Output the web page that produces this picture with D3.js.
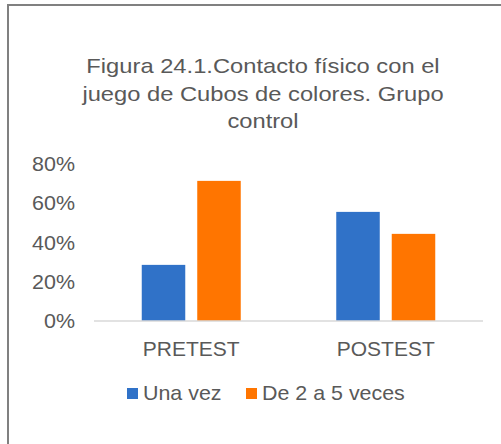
<!DOCTYPE html>
<meta charset="utf-8">
<title>Figura 24.1 Contacto físico con el juego de Cubos de colores</title>
<style>
  body { margin: 0; background-color: white; }
  text { font-family: "Liberation Sans", Arial, sans-serif; fill: #595959; }
  .axis-line { stroke: #d9d9d9; stroke-width: 1.5px; }
  .frame { stroke: #808080; stroke-width: 2px; fill: none; }
</style>
<svg width="501" height="444"></svg>
<script src="https://d3js.org/d3.v7.min.js"></script>
<script>
// data
var categories = ["PRETEST", "POSTEST"];
var series = ["Una vez", "De 2 a 5 veces"];
var unaVez = [0.286, 0.556];
var de2a5 = [0.714, 0.444];
var yTicks = [0, 0.2, 0.4, 0.6, 0.8];
var titleLines = ["Figura 24.1.Contacto físico con el", "juego de Cubos de colores. Grupo", "control"];
var colors = ["#3072c8", "#ff7500"];

var svg = d3.select("svg");

// frame (only left and top edges visible in the original)
svg.append("path")
    .attr("class", "frame")
    .attr("d", "M8,444V5H501");

// text helper: horizontal stretch like the source image
function label(g, x, y, txt, size, sx, anchor) {
  return g.append("text")
      .attr("transform", "translate(" + x + "," + y + ") scale(" + sx + ",1)")
      .attr("text-anchor", anchor)
      .style("font-size", size + "px")
      .text(txt);
}

titleLines.forEach(function(t, i) {
  label(svg, 263, 73 + i * 27.5, t, 21, 1.13, "middle");
});

var x0 = d3.scaleBand().domain(categories).range([94, 483]);
var x1 = d3.scaleBand().domain(series)
    .range([47.75, x0.bandwidth() - 47.75])
    .paddingInner(0.216);
var y = d3.scaleLinear().domain([0, 0.8]).range([321, 164]);
var fmt = d3.format(".0%");

// y tick labels
yTicks.forEach(function(t) {
  label(svg, 75, y(t) + 7, fmt(t), 19.5, 1.1, "end");
});

// bars
var rows = categories.map(function(c, i) {
  return { cat: c, vals: [unaVez[i], de2a5[i]] };
});

var groups = svg.append("g").selectAll("g")
    .data(rows)
    .enter().append("g")
    .attr("transform", function(d) { return "translate(" + x0(d.cat) + ",0)"; });

groups.selectAll("rect")
    .data(function(d) { return d.vals.map(function(v, j) { return { s: series[j], v: v, j: j }; }); })
    .enter().append("rect")
    .attr("x", function(d) { return x1(d.s); })
    .attr("width", x1.bandwidth())
    .attr("y", function(d) { return y(d.v); })
    .attr("height", function(d) { return y(0) - y(d.v); })
    .attr("fill", function(d) { return colors[d.j]; });

// baseline
svg.append("line")
    .attr("class", "axis-line")
    .attr("x1", 94).attr("x2", 483)
    .attr("y1", y(0)).attr("y2", y(0));

// category labels
categories.forEach(function(c) {
  label(svg, x0(c) + x0.bandwidth() / 2, 356, c, 20, 1.05, "middle");
});

// legend
var legendX = [127, 246];
series.forEach(function(s, i) {
  svg.append("rect")
      .attr("x", legendX[i]).attr("y", 388)
      .attr("width", 11).attr("height", 11)
      .attr("fill", colors[i]);
  label(svg, legendX[i] + 16, 400, s, 21, 1.02, "start");
});
</script>
